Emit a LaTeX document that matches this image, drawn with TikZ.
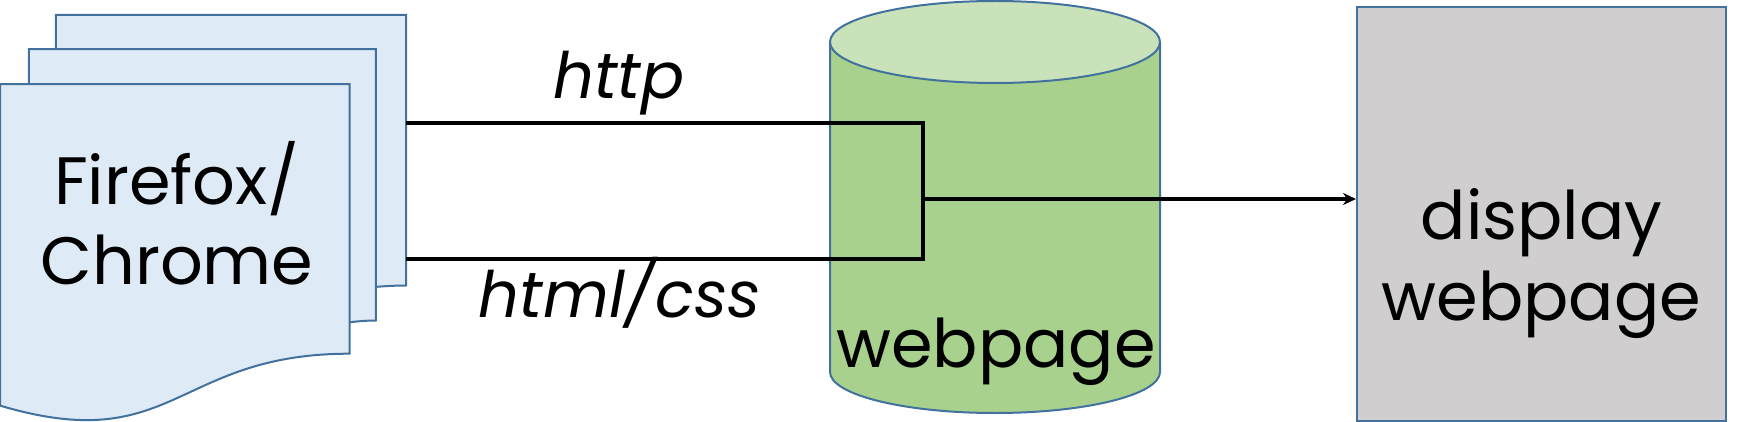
\documentclass[tikz,border=0pt]{standalone}
\usepackage{fontspec}
\setmainfont{Poppins}
\usetikzlibrary{arrows.meta}
\definecolor{docblue}{HTML}{DEEBF7}
\definecolor{edgeblue}{HTML}{41719C}
\definecolor{dbgreen}{HTML}{A9D18E}
\definecolor{dbtop}{HTML}{C9E2BA}
\definecolor{screengray}{HTML}{D0CECE}

\begin{document}
\begin{tikzpicture}[x=0.5pt,y=-0.5pt,>={Stealth[length=6.5pt,width=6pt]},
  sheet/.style={fill=docblue,draw=edgeblue,line width=1pt},
  big/.style={font=\fontsize{33.5}{40}\selectfont,inner sep=0pt,anchor=base,align=center},
  wire/.style={line width=1.75pt}]

\useasboundingbox (0,0) rectangle (1744,422);

% the stack of browser pages
\draw [sheet] (55.9,15) -- (406,15) -- (406,285.5) .. controls (391,285.5) and (375.9,286.9) .. (375.9,286.9) -- (55.9,286.9) -- cycle;
\draw [sheet] (28.8,49.1) -- (375.9,49.1) -- (375.9,320.5) .. controls (362.7,320.5) and (349.5,322.3) .. (349.5,322.3) -- (28.8,322.3) -- cycle;
\draw [sheet] (0,84.1) -- (349.5,84.1) -- (349.5,353.7) .. controls (174.8,353.7) and (174.8,457.5) .. (0,405.6) -- cycle;

\node [big] (browser) at (177,285) {Firefox/\\Chrome};

% the database
\fill [dbgreen] (830,42) -- (830,372) arc [start angle=180,end angle=0,x radius=165,y radius=41] -- (1160,42) -- cycle;
\draw [edgeblue,line width=1pt] (830,42) -- (830,372) arc [start angle=180,end angle=0,x radius=165,y radius=41] -- (1160,42);
\filldraw [fill=dbtop,draw=edgeblue,line width=1pt] (995,42) ellipse [x radius=165,y radius=41];

\node [big] (dbtext) at (996,367) {webpage};

% the screen
\node [draw=edgeblue,fill=screengray,line width=1pt,minimum width=184.5pt,minimum height=207pt] (screen) at (1541.5,214) {};
\node [big] (screentext) at (1541.5,320) {display\\webpage};

\coordinate (req) at (406,123);
\coordinate (resp) at (406,259);
\coordinate (fetch) at (923,123);
\coordinate (back) at (923,259);
\coordinate (split) at (923,199);

\draw [wire] (req) -- (fetch) -- (back) -- (resp);
\draw [wire,->] (split) -- (split -| screen.west);

\node [big,font=\fontsize{32}{40}\selectfont\itshape] (http) at (619,99) {http};
\node [big,font=\fontsize{32}{40}\selectfont\itshape] (html) at (620,317) {html/css};

\end{tikzpicture}
\end{document}
